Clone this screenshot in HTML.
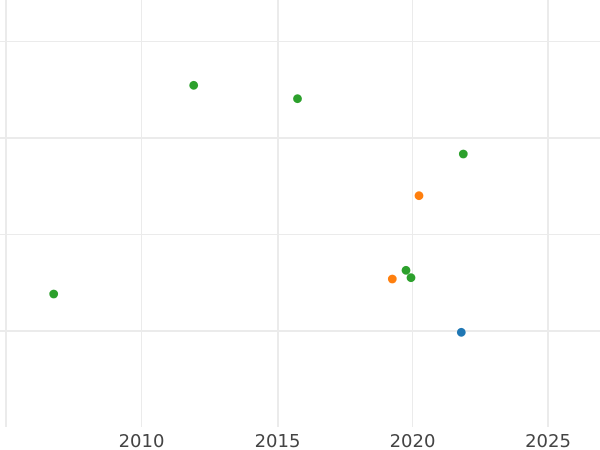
<!DOCTYPE html>
<html><head><meta charset="utf-8"><style>
html,body{margin:0;padding:0;background:#fff;}
svg{display:block;}
text{font-family:"DejaVu Sans","Liberation Sans",sans-serif;font-size:18px;fill:#444;}
</style></head><body>
<svg width="600" height="450" viewBox="0 0 600 450" xmlns="http://www.w3.org/2000/svg">
<rect width="600" height="450" fill="#fff"/>
<g fill="#ebebeb">
<rect x="0" y="41" width="600" height="1"/>
<rect x="0" y="234" width="600" height="1"/>
<rect x="141" y="0" width="1" height="427"/>
<rect x="412" y="0" width="1" height="427"/>
<rect x="0" y="137" width="600" height="2"/>
<rect x="0" y="330" width="600" height="2"/>
<rect x="5" y="0" width="2" height="427"/>
<rect x="277" y="0" width="2" height="427"/>
<rect x="547" y="0" width="2" height="427"/>
</g>
<g>
<circle cx="193.7" cy="85.3" r="4.4" fill="#2ca02c"/>
<circle cx="297.5" cy="98.7" r="4.4" fill="#2ca02c"/>
<circle cx="463.3" cy="154" r="4.4" fill="#2ca02c"/>
<circle cx="419" cy="195.7" r="4.4" fill="#ff7f0e"/>
<circle cx="406" cy="270.3" r="4.4" fill="#2ca02c"/>
<circle cx="411" cy="277.7" r="4.4" fill="#2ca02c"/>
<circle cx="392.3" cy="279" r="4.4" fill="#ff7f0e"/>
<circle cx="53.7" cy="294" r="4.4" fill="#2ca02c"/>
<circle cx="461.3" cy="332.3" r="4.4" fill="#1f77b4"/>
</g>
<g text-anchor="middle">
<text x="141.5" y="447">2010</text>
<text x="277.5" y="447">2015</text>
<text x="412.5" y="447">2020</text>
<text x="548" y="447">2025</text>
</g>
</svg>
</body></html>
